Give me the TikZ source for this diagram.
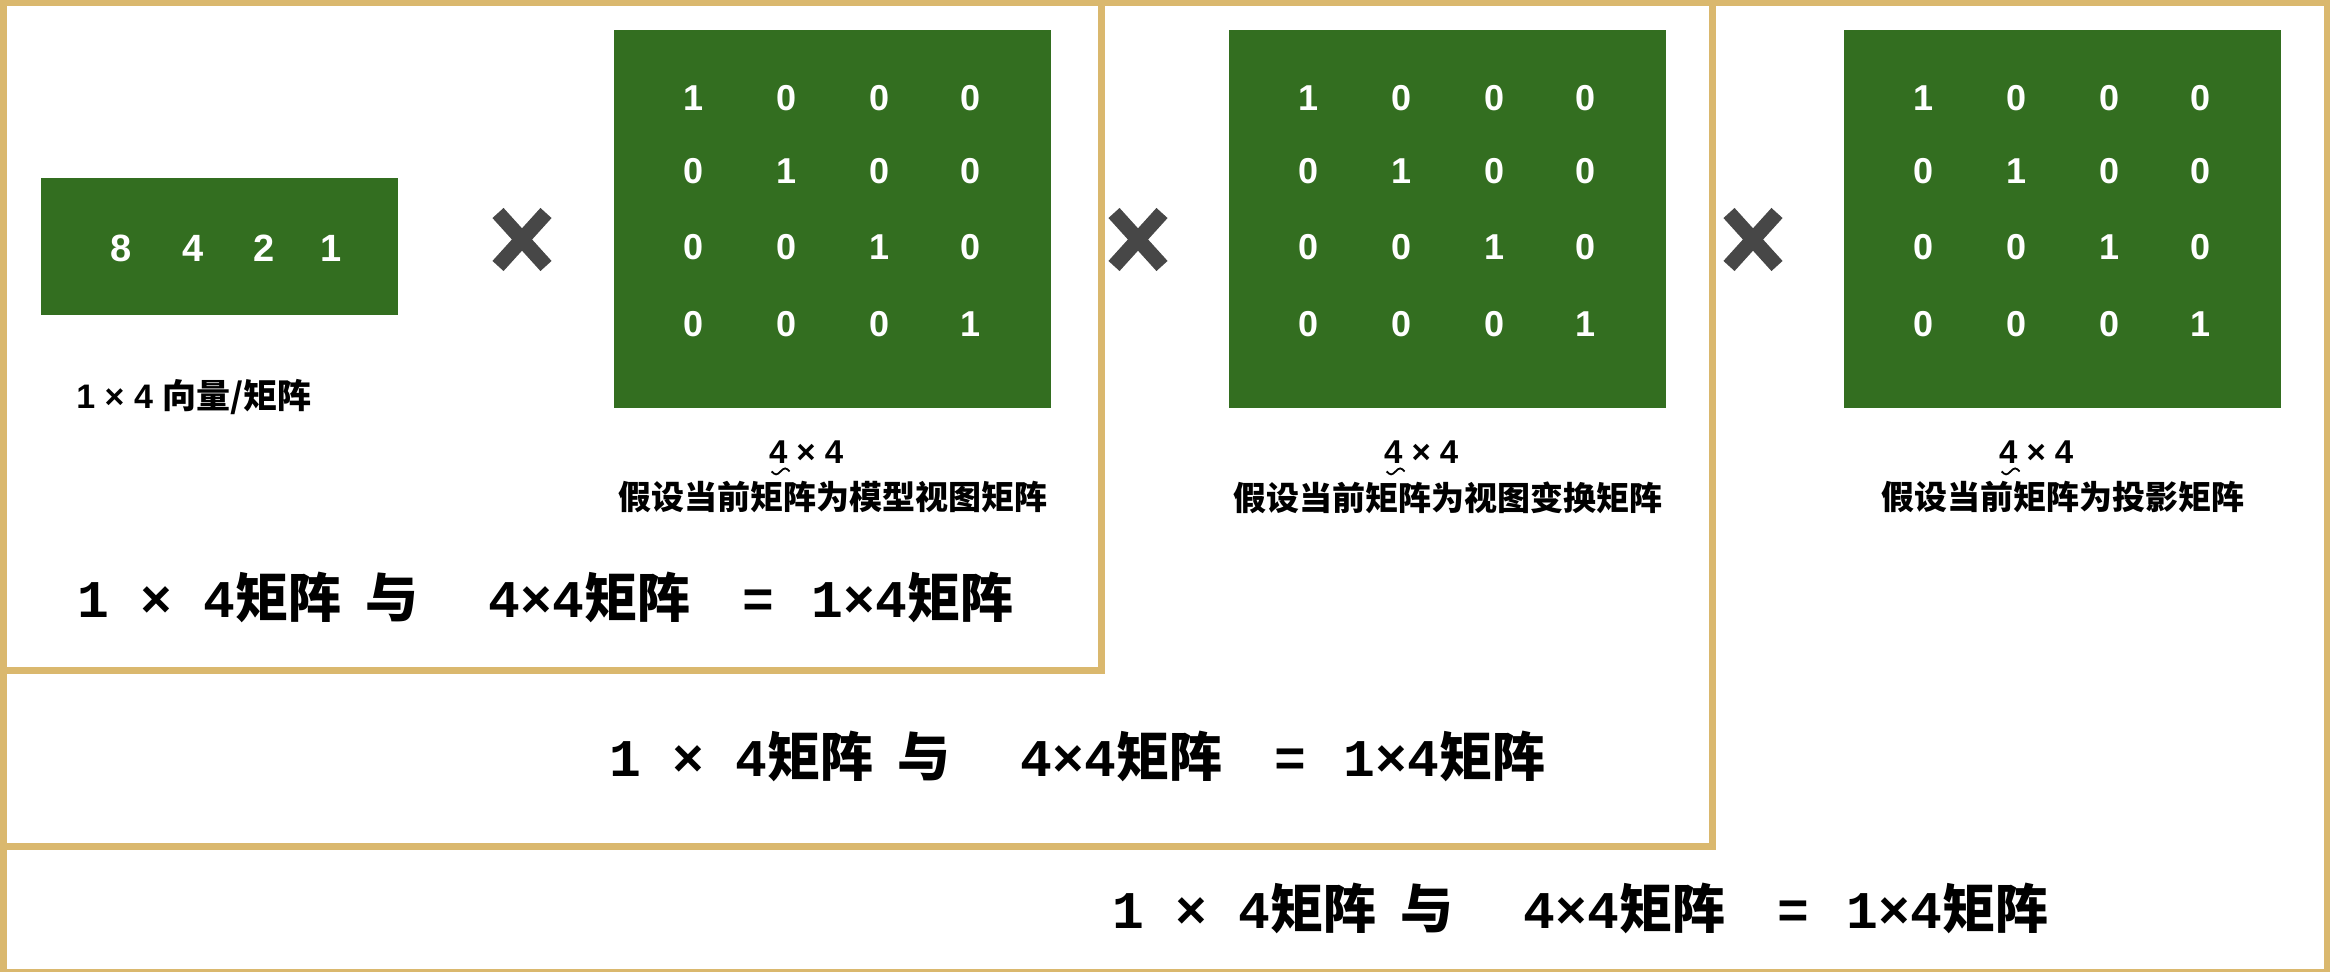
\documentclass[tikz,border=0pt]{standalone}
\usepackage{fontspec}
\setmainfont{Liberation Sans}
\newfontfamily\monof{Liberation Mono}
\newfontfamily\cjk{Noto Sans CJK SC}
\usetikzlibrary{calc}
\definecolor{matgreen}{RGB}{51,110,32}
\definecolor{framegold}{RGB}{218,184,110}
\definecolor{xgray}{RGB}{71,71,71}

% Zeile: 1x4 mal 4x4 ergibt 1x4
\newcommand\eqline{1\hspace{15.5pt}×\hspace{16pt}4{\cjk 矩阵}\hspace{12pt}{\cjk 与}\hspace{35pt}4×4{\cjk 矩阵}\hspace{26pt}=\hspace{19pt}1×4{\cjk 矩阵}}

\begin{document}
\begin{tikzpicture}[x=0.5pt, y=-0.5pt,
  greenbox/.style={fill=matgreen, draw=none, inner sep=0pt},
  entry/.style={text=white, inner sep=0pt, font=\fontsize{18pt}{19pt}\selectfont\bfseries},
  vecentry/.style={text=white, inner sep=0pt, font=\fontsize{19pt}{20pt}\selectfont\bfseries},
  dimlbl/.style={anchor=west, inner sep=0pt, font=\fontsize{16.5pt}{17pt}\selectfont\bfseries},
  caplbl/.style={inner sep=0pt, font=\fontsize{16.5pt}{17pt}\selectfont\bfseries\cjk},
  formula/.style={anchor=west, inner sep=0pt, font=\fontsize{26.5pt}{27pt}\selectfont\bfseries\monof},
  xmark/.style={draw=xgray, line width=7.5pt},
  frame/.style={draw=framegold, line width=3.5pt}]

\useasboundingbox (0,0) rectangle (2330,972);
\clip (0,0) rectangle (2330,972);

% Vektor 1x4
\node[greenbox, minimum width=178.5pt, minimum height=68.5pt] (vec) at (219.5,246.5) {};
\foreach \v/\dx in {8/80,4/152,2/223,1/290}
  \node[vecentry] (vec-\v) at ($(vec.west)+(\dx,1.5)$) {\v};
\node[anchor=west, inner sep=0pt, font=\fontsize{17pt}{18pt}\selectfont\bfseries] (veclabel)
  at (76,397) {1 × 4 {\cjk 向量/矩阵}};

% drei Einheitsmatrizen 4x4
\node[greenbox, minimum width=218.5pt, minimum height=189pt] (mA) at (832.5,219) {};
\node[greenbox, minimum width=218.5pt, minimum height=189pt] (mB) at (1447.5,219) {};
\node[greenbox, minimum width=218.5pt, minimum height=189pt] (mC) at (2062.5,219) {};
\foreach \m in {mA,mB,mC}{
  \foreach \c/\dx in {1/80,2/173,3/266,4/357}
    \foreach \r/\dy in {1/69,2/142,3/218,4/295}{
      \pgfmathtruncatemacro\val{\r==\c ? 1 : 0}
      \node[entry] (\m-\r\c) at ($(\m.north west)+(\dx,\dy)$) {\val};
    }
  \node[dimlbl] (\m-dim) at ($(\m.south west)+(155,44)$) {4 × 4};
  \draw[line width=0.9pt] ($(\m.south west)+(158,63)$) sin +(4.5,3) cos +(4.5,-3) sin +(4.5,-3) cos +(4.5,3);
}
\node[caplbl] (mA-cap) at ($(mA.south)+(0,89)$) {假设当前矩阵为模型视图矩阵};
\node[caplbl] (mB-cap) at ($(mB.south)+(0,89)$) {假设当前矩阵为视图变换矩阵};
\node[caplbl] (mC-cap) at ($(mC.south)+(0,89)$) {假设当前矩阵为投影矩阵};

% Malzeichen
\foreach \xc [count=\i] in {522,1138,1753}{
  \coordinate (times\i) at (\xc,239.5);
  \draw[xmark] ($(times\i)+(-24,-26.5)$) -- ($(times\i)+(24,26.5)$);
  \draw[xmark] ($(times\i)+(24,-26.5)$) -- ($(times\i)+(-24,26.5)$);
}

% Ergebniszeilen
\node[formula] (eq1) at (77,597) {\eqline};
\node[formula] (eq2) at (609,756) {\eqline};
\node[formula] (eq3) at (1112,908) {\eqline};

% Rahmen
\draw[frame] (3,2.5) rectangle (1101.5,670.5);
\draw[frame] (3,2.5) rectangle (1712.5,846.5);
\draw[frame] (3,2.5) rectangle (2327.5,972.5);

\end{tikzpicture}
\end{document}
